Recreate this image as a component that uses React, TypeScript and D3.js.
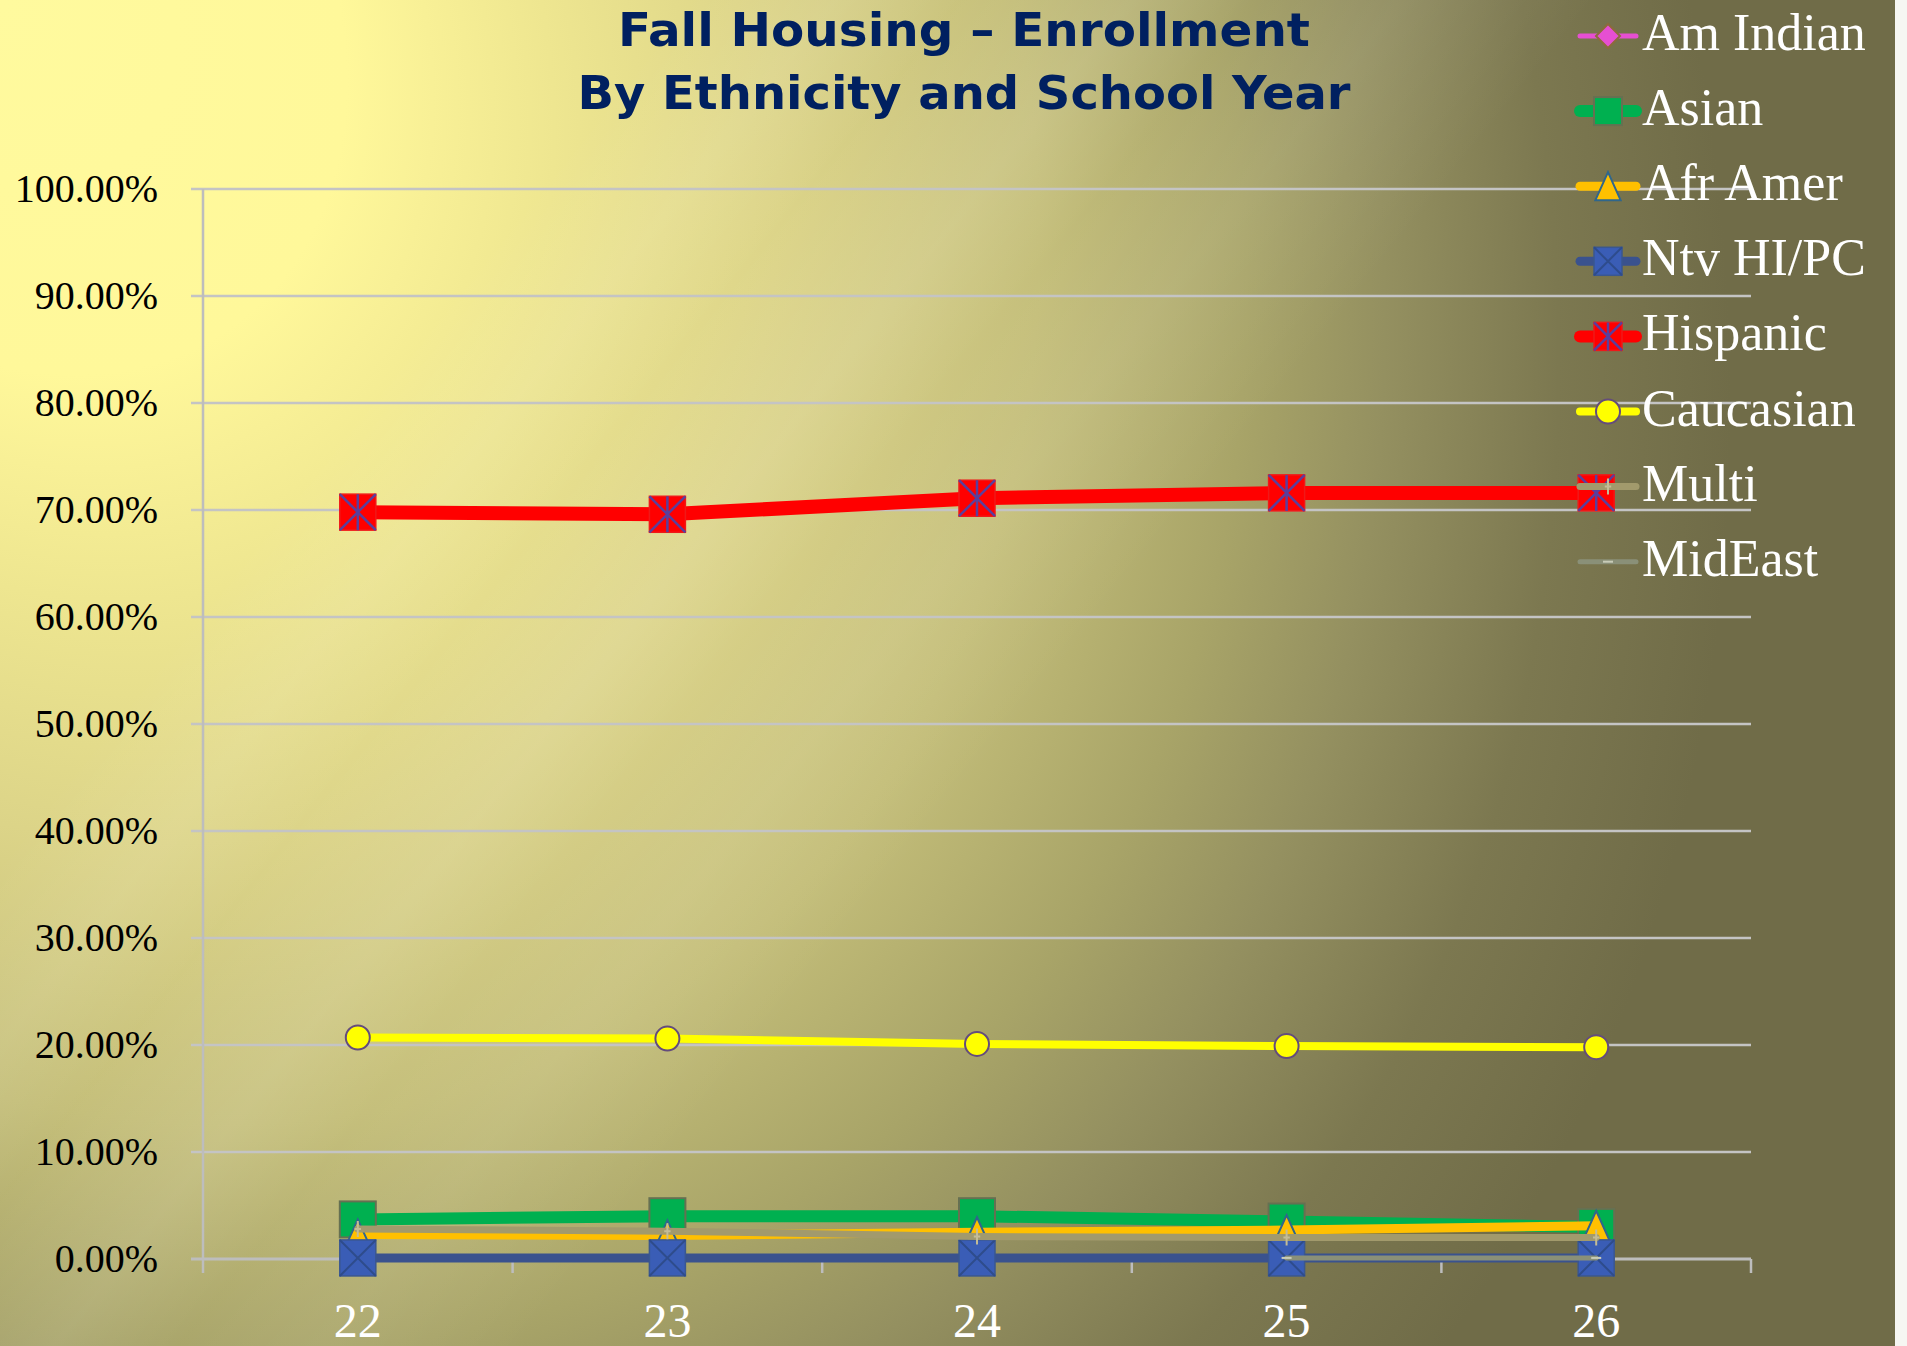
import React from "react";
import * as d3 from "d3";

const W = 1907;
const H = 1346;

// values (share of enrollment)
const years = ["22", "23", "24", "25", "26"];
const amIndian = [0.002, 0.002, 0.002, 0.002, 0.002];
const asian = [0.037, 0.04, 0.04, 0.035, 0.03];
const afrAmer = [0.023, 0.022, 0.025, 0.027, 0.031];
const ntvHiPc = [0.001, 0.001, 0.001, 0.001, 0.001];
const hispanic = [0.698, 0.696, 0.711, 0.716, 0.716];
const caucasian = [0.207, 0.206, 0.201, 0.199, 0.198];
const multi = [0.028, 0.026, 0.021, 0.02, 0.02];
const midEast = [null, null, null, 0.001, 0.001];
const yTicks = [0, 0.1, 0.2, 0.3, 0.4, 0.5, 0.6, 0.7, 0.8, 0.9, 1.0];
const titleLines = ["Fall Housing \u2013 Enrollment", "By Ethnicity and School Year"];

type Marker = "diamond" | "square" | "triangle" | "squareX" | "squareStar" | "circle" | "plus" | "dash";

interface Series {
  name: string;
  values: (number | null)[];
  color: string;
  width: number;
  marker: Marker;
  size: number;
  legendSize: number;
  fill: string;
  stroke: string;
  cross?: string;
}

const series: Series[] = [
  { name: "Am Indian", values: amIndian, color: "#E64FD2", width: 5, marker: "diamond", size: 26, legendSize: 24, fill: "#E64FD2", stroke: "#8C6B3C" },
  { name: "Asian", values: asian, color: "#00B050", width: 12, marker: "square", size: 36, legendSize: 28, fill: "#00B050", stroke: "#667052" },
  { name: "Afr Amer", values: afrAmer, color: "#FFC000", width: 9, marker: "triangle", size: 30, legendSize: 28, fill: "#FFC000", stroke: "#2F668C" },
  { name: "Ntv HI/PC", values: ntvHiPc, color: "#3A528E", width: 9, marker: "squareX", size: 36, legendSize: 28, fill: "#3A5DB6", stroke: "#3A5790", cross: "#2E4C8C" },
  { name: "Hispanic", values: hispanic, color: "#FF0000", width: 14, marker: "squareStar", size: 36, legendSize: 28, fill: "#FF0000", stroke: "#F01818", cross: "#5A3F9C" },
  { name: "Caucasian", values: caucasian, color: "#FFFF00", width: 8, marker: "circle", size: 24, legendSize: 24, fill: "#FFFF00", stroke: "#644C7C" },
  { name: "Multi", values: multi, color: "#A29A6C", width: 7, marker: "plus", size: 16, legendSize: 16, fill: "none", stroke: "#C4BC96" },
  { name: "MidEast", values: midEast, color: "#8A9078", width: 5, marker: "dash", size: 10, legendSize: 10, fill: "none", stroke: "#C8CCB8" },
];

const plot = { left: 203, right: 1751, top: 189, bottom: 1259 };

const x = d3.scaleBand<string>().domain(years).range([plot.left, plot.right]);
const cx = (c: string) => (x(c) as number) + x.bandwidth() / 2;
const y = d3.scaleLinear().domain([0, 1]).range([plot.bottom, plot.top]);
const pct = d3.format(".2%");

function drawMarker(s: Series, px: number, py: number, size: number, key: string) {
  const h = size / 2;
  switch (s.marker) {
    case "diamond":
      return (
        <polygon key={key} points={`${px},${py - h} ${px + h},${py} ${px},${py + h} ${px - h},${py}`} fill={s.fill} stroke={s.stroke} strokeWidth={2} />
      );
    case "square":
      return <rect key={key} x={px - h} y={py - h} width={size} height={size} fill={s.fill} stroke={s.stroke} strokeWidth={2} />;
    case "triangle":
      return (
        <polygon key={key} points={`${px},${py - h} ${px + h * 0.9},${py + h} ${px - h * 0.9},${py + h}`} fill={s.fill} stroke={s.stroke} strokeWidth={2} />
      );
    case "squareX":
      return (
        <g key={key}>
          <rect x={px - h} y={py - h} width={size} height={size} fill={s.fill} stroke={s.stroke} strokeWidth={1.5} />
          <path d={`M${px - h},${py - h}L${px + h},${py + h}M${px + h},${py - h}L${px - h},${py + h}`} stroke={s.cross} strokeWidth={2} />
        </g>
      );
    case "squareStar":
      return (
        <g key={key}>
          <rect x={px - h} y={py - h} width={size} height={size} fill={s.fill} stroke={s.stroke} strokeWidth={1.5} />
          <path
            d={`M${px - h},${py - h}L${px + h},${py + h}M${px + h},${py - h}L${px - h},${py + h}M${px},${py - h}L${px},${py + h}`}
            stroke={s.cross}
            strokeWidth={2.5}
          />
        </g>
      );
    case "circle":
      return <circle key={key} cx={px} cy={py} r={h} fill={s.fill} stroke={s.stroke} strokeWidth={2} />;
    case "plus":
      return (
        <path key={key} d={`M${px},${py - h}L${px},${py + h}M${px - h * 0.4},${py}L${px + h * 0.4},${py}`} stroke={s.stroke} strokeWidth={2} />
      );
    case "dash":
      return <path key={key} d={`M${px - h},${py}L${px + h},${py}`} stroke={s.stroke} strokeWidth={2} />;
  }
}

export default function App() {
  const line = d3
    .line<[string, number | null]>()
    .defined((d) => d[1] != null)
    .x((d) => cx(d[0]))
    .y((d) => y(d[1] as number));

  const legendTop = 36;
  const legendStep = 75.1;
  const titleFont = "'DejaVu Sans Condensed', 'DejaVu Sans', sans-serif";

  return (
    <div style={{ position: "absolute", left: 0, top: 0, width: W, height: H }}>
      <svg width={W} height={H} style={{ display: "block" }}>
        <defs>
          <radialGradient id="bg" cx={0} cy={0} r={1} fx={0} fy={0} gradientUnits="userSpaceOnUse" gradientTransform="rotate(55) scale(2000,1583)">
            <stop offset="0" stopColor="#FFFA9E" />
            <stop offset="0.2" stopColor="#FFF89A" />
            <stop offset="0.25" stopColor="#F8F096" />
            <stop offset="0.32" stopColor="#EEE690" />
            <stop offset="0.45" stopColor="#DCD488" />
            <stop offset="0.6" stopColor="#C4BE79" />
            <stop offset="0.72" stopColor="#A8A468" />
            <stop offset="0.8" stopColor="#949060" />
            <stop offset="0.9" stopColor="#7C7850" />
            <stop offset="1" stopColor="#706C48" />
          </radialGradient>
          <linearGradient id="streak" x1={0} y1={0} x2={1500} y2={1200} gradientUnits="userSpaceOnUse">
            <stop offset="0.28" stopColor="#fff" stopOpacity={0} />
            <stop offset="0.34" stopColor="#fff" stopOpacity={0.08} />
            <stop offset="0.39" stopColor="#fff" stopOpacity={0.01} />
            <stop offset="0.46" stopColor="#fff" stopOpacity={0.1} />
            <stop offset="0.51" stopColor="#fff" stopOpacity={0.02} />
            <stop offset="0.57" stopColor="#fff" stopOpacity={0.07} />
            <stop offset="0.65" stopColor="#fff" stopOpacity={0} />
          </linearGradient>
        </defs>
        <rect width={W} height={H} fill="url(#bg)" />
        <rect width={W} height={H} fill="url(#streak)" />
        <rect x={1895} width={12} height={H} fill="#F6F6F2" />

        {/* gridlines */}
        {yTicks.slice(1).map((t) => (
          <line key={t} x1={plot.left - 12} x2={plot.right} y1={y(t)} y2={y(t)} stroke="#C4C4C4" strokeWidth={2.5} />
        ))}
        {/* axes */}
        <line x1={plot.left} x2={plot.left} y1={plot.top} y2={plot.bottom + 14} stroke="#BDBDBD" strokeWidth={2.5} />
        <line x1={plot.left - 12} x2={plot.right} y1={plot.bottom} y2={plot.bottom} stroke="#BDBDBD" strokeWidth={3} />
        {years.map((c) => (
          <line key={c} x1={(x(c) as number) + x.bandwidth()} x2={(x(c) as number) + x.bandwidth()} y1={plot.bottom} y2={plot.bottom + 14} stroke="#BDBDBD" strokeWidth={2.5} />
        ))}

        {/* series */}
        {series.map((s) => {
          const pts = years.map((c, i) => [c, s.values[i]] as [string, number | null]);
          return (
            <g key={s.name}>
              <path d={line(pts) || ""} fill="none" stroke={s.color} strokeWidth={s.width} strokeLinecap="round" strokeLinejoin="round" />
              {pts.filter((d) => d[1] != null).map((d) => drawMarker(s, cx(d[0]), y(d[1] as number), s.size, d[0]))}
            </g>
          );
        })}

        {/* y tick labels */}
        {yTicks.map((t) => (
          <text key={t} x={158} y={y(t) + 13} textAnchor="end" fontFamily="'Liberation Serif', serif" fontSize={40} fill="#000">
            {pct(t)}
          </text>
        ))}
        {/* x tick labels */}
        {years.map((c) => (
          <text key={c} x={cx(c)} y={1337} textAnchor="middle" fontFamily="'Liberation Serif', serif" fontSize={48} fill="#fff">
            {c}
          </text>
        ))}

        {/* title */}
        <text x={964} y={46} textAnchor="middle" fontFamily={titleFont} fontWeight="bold" fontSize={46} fill="#002060" textLength={692} lengthAdjust="spacingAndGlyphs">
          {titleLines[0]}
        </text>
        <text x={964} y={109} textAnchor="middle" fontFamily={titleFont} fontWeight="bold" fontSize={46} fill="#002060" textLength={773} lengthAdjust="spacingAndGlyphs">
          {titleLines[1]}
        </text>

        {/* legend */}
        {series.map((s, i) => {
          const ly = legendTop + i * legendStep;
          return (
            <g key={s.name}>
              <line x1={1580} x2={1636} y1={ly} y2={ly} stroke={s.color} strokeWidth={Math.min(s.width, 12)} strokeLinecap="round" />
              {drawMarker(s, 1608, ly, s.legendSize, "m")}
              <text x={1642} y={ly + 14} fontFamily="'Liberation Serif', serif" fontSize={52} fill="#fff">
                {s.name}
              </text>
            </g>
          );
        })}
      </svg>
    </div>
  );
}
